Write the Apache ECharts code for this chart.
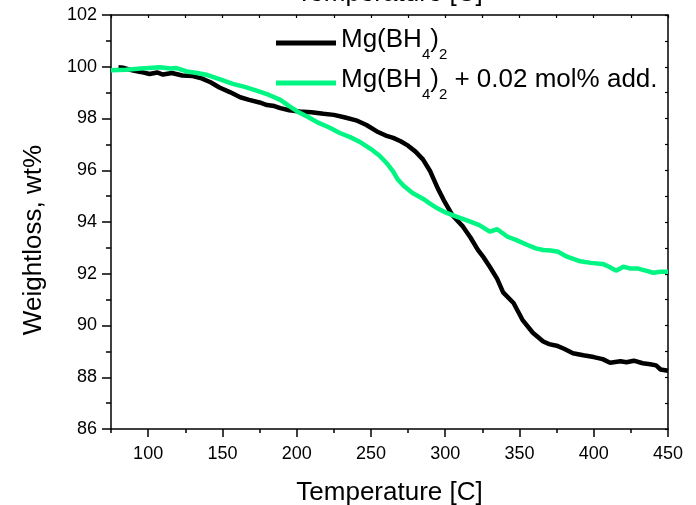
<!DOCTYPE html>
<html>
<head>
<meta charset="utf-8">
<script src="https://cdn.jsdelivr.net/npm/echarts@6/dist/echarts.min.js"></script>
<style>
  html, body { margin: 0; padding: 0; background: #fff; }
  #main { width: 696px; height: 505px; }
</style>
</head>
<body>
<div id="main"></div>
<script>
// TGA curves: [temperature C, weight %]
var pureData = [
  [80, 99.98], [83, 99.96], [90, 99.85], [95, 99.8], [101, 99.72], [106, 99.78],
  [110, 99.7], [116, 99.76], [123, 99.66], [130, 99.64], [136, 99.55], [142, 99.4],
  [148, 99.2], [155, 99.02], [162, 98.82], [168, 98.72], [175, 98.62], [180, 98.52],
  [185, 98.48], [189, 98.4], [195, 98.32], [202, 98.27], [210, 98.24], [218, 98.18],
  [225, 98.14], [232, 98.05], [240, 97.93], [247, 97.75], [254, 97.5], [260, 97.34],
  [265, 97.25], [270, 97.12], [275, 96.95], [280, 96.72], [285, 96.42], [290, 95.95],
  [295, 95.3], [299, 94.85], [305, 94.25], [312, 93.82], [317, 93.4], [322, 92.92],
  [326, 92.62], [330, 92.27], [335, 91.8], [339, 91.28], [346, 90.87], [352, 90.22],
  [359, 89.72], [366, 89.38], [370, 89.28], [375, 89.22], [380, 89.1], [386, 88.93],
  [393, 88.85], [400, 88.78], [406, 88.7], [411, 88.56], [418, 88.62], [422, 88.58],
  [427, 88.64], [433, 88.54], [438, 88.5], [442, 88.46], [445, 88.3], [450, 88.25]
];
var addData = [
  [75, 99.86], [85, 99.88], [95, 99.93], [108, 99.98], [115, 99.93], [119, 99.95],
  [126, 99.82], [133, 99.76], [140, 99.68], [148, 99.52], [157, 99.34], [165, 99.22],
  [173, 99.08], [181, 98.92], [189, 98.72], [195, 98.48], [202, 98.22], [208, 98.05],
  [214, 97.85], [222, 97.65], [229, 97.44], [236, 97.28], [243, 97.08], [250, 96.82],
  [256, 96.55], [261, 96.25], [265, 95.95], [268, 95.65], [272, 95.4], [278, 95.12],
  [285, 94.9], [290, 94.7], [295, 94.52], [301, 94.35], [308, 94.2], [316, 94.03],
  [323, 93.88], [330, 93.63], [335, 93.72], [342, 93.43], [348, 93.3], [355, 93.12],
  [361, 92.98], [366, 92.92], [371, 92.9], [376, 92.85], [382, 92.66], [391, 92.48],
  [398, 92.42], [406, 92.38], [411, 92.25], [415, 92.12], [420, 92.27], [425, 92.2],
  [430, 92.2], [435, 92.12], [440, 92.04], [445, 92.08], [450, 92.08]
];
var seriesNames = ['Mg(BH4)2', 'Mg(BH4)2 + 0.02 mol% add.'];
var xMajorTicks = [100, 150, 200, 250, 300, 350, 400, 450];
var xMinorTicks = [75, 125, 175, 225, 275, 325, 375, 425];
var xTopTicks = [75, 100, 125, 150, 175, 200, 225, 250, 275, 300, 325, 350, 375, 400, 425, 450];

var font = 'Liberation Sans, Arial, sans-serif';
var chart = echarts.init(document.getElementById('main'), null, { renderer: 'canvas' });

var axisLine = { show: true, lineStyle: { color: '#000', width: 1.5 } };
var nameStyle = { color: '#000', fontSize: 26, fontFamily: font };

var option = {
  animation: false,
  backgroundColor: '#fff',
  grid: { left: 111, right: 28, top: 15, bottom: 76, containLabel: false, outerBoundsMode: 'none' },
  legend: {
    orient: 'vertical',
    left: 271,
    top: 22,
    itemWidth: 60,
    itemHeight: 5,
    itemGap: 5,
    icon: 'rect',
    data: seriesNames,
    formatter: function (name) {
      if (name === seriesNames[0]) return '{n|Mg(BH}{s|4}{n|)}{s|2}';
      return '{n|Mg(BH}{s|4}{n|)}{s|2}{n| + 0.02 mol% add.}';
    },
    textStyle: {
      color: '#000',
      fontFamily: font,
      fontSize: 26,
      rich: {
        n: { fontSize: 26, fontFamily: font, color: '#000', verticalAlign: 'top', lineHeight: 32 },
        s: { fontSize: 15, fontFamily: font, color: '#000', verticalAlign: 'top', lineHeight: 16, padding: [20, 0, 0, 0] }
      }
    }
  },
  xAxis: [
    {
      type: 'value', position: 'bottom', min: 75, max: 450,
      axisLine: axisLine,
      axisTick: { show: true, length: 8, lineStyle: { color: '#000', width: 1.5 }, customValues: xMajorTicks },
      axisLabel: { color: '#000', fontSize: 18, fontFamily: font, margin: 16, customValues: xMajorTicks },
      splitLine: { show: false },
      name: 'Temperature [C]', nameLocation: 'middle', nameGap: 51,
      nameTextStyle: nameStyle
    },
    {
      type: 'value', position: 'bottom', min: 75, max: 450,
      axisLine: { show: false },
      axisTick: { show: true, length: 4, lineStyle: { color: '#000', width: 1.5 }, customValues: xMinorTicks },
      axisLabel: { show: false },
      splitLine: { show: false }
    },
    {
      type: 'value', position: 'top', min: 75, max: 450,
      axisLine: axisLine,
      axisTick: { show: true, inside: true, length: 3, lineStyle: { color: '#000', width: 1.2 }, customValues: xTopTicks },
      axisLabel: { show: false },
      splitLine: { show: false },
      name: 'Temperature [C]', nameLocation: 'middle', nameGap: 8,
      nameTextStyle: nameStyle
    }
  ],
  yAxis: [
    {
      type: 'value', position: 'left', min: 86, max: 102, interval: 2,
      axisLine: axisLine,
      axisTick: { show: true, length: 9, lineStyle: { color: '#000', width: 1.5 } },
      minorTick: { show: true, splitNumber: 2, length: 5, lineStyle: { color: '#000', width: 1.5 } },
      axisLabel: { color: '#000', fontSize: 18, fontFamily: font, margin: 14 },
      splitLine: { show: false },
      name: 'Weightloss, wt%', nameLocation: 'middle', nameGap: 64,
      nameTextStyle: { color: '#000', fontSize: 26, fontFamily: font, padding: [0, 36, 0, 0] }
    },
    {
      type: 'value', position: 'right', min: 86, max: 102, interval: 1,
      axisLine: axisLine,
      axisTick: { show: true, inside: true, length: 3, lineStyle: { color: '#000', width: 1.2 } },
      axisLabel: { show: false },
      splitLine: { show: false }
    }
  ],
  series: [
    {
      name: seriesNames[0], type: 'line', xAxisIndex: 0, yAxisIndex: 0,
      data: pureData, showSymbol: false, symbol: 'none',
      lineStyle: { color: '#000', width: 4.5 }, itemStyle: { color: '#000' }, z: 2
    },
    {
      name: seriesNames[1], type: 'line', xAxisIndex: 0, yAxisIndex: 0,
      data: addData, showSymbol: false, symbol: 'none',
      lineStyle: { color: '#00f582', width: 4.5 }, itemStyle: { color: '#00f582' }, z: 3
    }
  ]
};

chart.setOption(option);
</script>
</body>
</html>
